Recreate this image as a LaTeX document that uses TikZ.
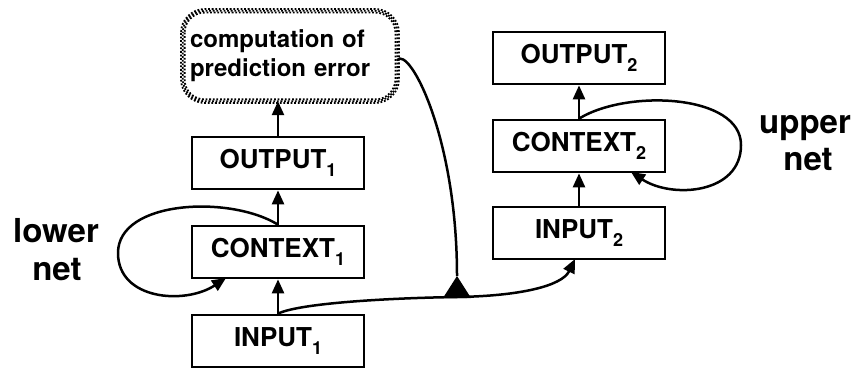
\documentclass[tikz,border=0pt]{standalone}
\usepackage{fontspec}
\setmainfont{TeX Gyre Heros}
\usetikzlibrary{arrows.meta}
% lowered index digit used in the unit names
\newcommand\unitidx[1]{\raisebox{-0.3em}{\fontsize{18}{18}\selectfont #1}}

\begin{document}
\begin{tikzpicture}[x=1pt,y=-1pt,
  unit/.style={draw, line width=2.7pt, minimum width=172pt, minimum height=52pt,
    inner sep=0pt, font=\fontsize{26}{28}\selectfont\bfseries},
  errbox/.style={minimum width=214pt, minimum height=90pt, inner xsep=7pt,
    inner ysep=0pt, text width=200pt, align=left,
    font=\fontsize{24}{29}\selectfont\bfseries},
  link/.style={line width=2.5pt, -{Triangle[length=14pt,width=12pt]}},
  wire/.style={line width=2.5pt},
  netlabel/.style={font=\fontsize{33}{37}\selectfont\bfseries, inner sep=0pt},
  checker/.style={line width=1.8pt, dash pattern=on 1.8pt off 1.8pt}
]
\useasboundingbox (0,0) rectangle (853,371);

% lower network
\node[unit] (in1)  at (278,341) {INPUT\unitidx{1}};
\node[unit] (ctx1) at (278,252) {CONTEXT\unitidx{1}};
\node[unit] (out1) at (278,163) {OUTPUT\unitidx{1}};

% upper network
\node[unit] (in2)  at (579,233) {INPUT\unitidx{2}};
\node[unit] (ctx2) at (579,146) {CONTEXT\unitidx{2}};
\node[unit] (out2) at (579,58)  {OUTPUT\unitidx{2}};

% prediction-error unit with a dithered border (three offset dash rows)
\node[errbox] (err) at (290,56) {computation of\\prediction error};
\draw[checker, rounded corners=24pt]
  ([xshift=-1.8pt,yshift=1.8pt]err.north west) rectangle ([xshift=1.8pt,yshift=-1.8pt]err.south east);
\draw[checker, dash phase=1.8pt, rounded corners=22pt]
  (err.north west) rectangle (err.south east);
\draw[checker, rounded corners=20pt]
  ([xshift=1.8pt,yshift=-1.8pt]err.north west) rectangle ([xshift=-1.8pt,yshift=1.8pt]err.south east);

% labels
\node[netlabel, anchor=base] (lowerw) at (56,243) {lower};
\node[netlabel, anchor=base] (lowern) at (57,280) {net};
\node[netlabel, anchor=base] (upperw) at (805,134) {upper};
\node[netlabel, anchor=base] (uppern) at (808,171) {net};

% feed-forward arrows
\draw[link] (in1.north)  -- (ctx1.south);
\draw[link] (ctx1.north) -- (out1.south);
\draw[link] (out1.north) -- (out1.north |- err.south);
\draw[link] (in2.north)  -- (ctx2.south);
\draw[link] (ctx2.north) -- (out2.south);

% recurrent loops
\coordinate (ret1) at (226,278);
\draw[link] (ctx1.north) .. controls (230,195) and (118,200) .. (118,253)
  .. controls (118,300) and (185,305) .. (ret1);
\coordinate (ret2) at (631,172);
\draw[link] (ctx2.north) .. controls (627,89) and (741,94) .. (741,145)
  .. controls (741,194) and (672,199) .. (ret2);

% error signal gating the input path
\coordinate (gate) at (457,297);
\coordinate (apex) at (457,276);
\draw[wire] ([yshift=-4pt]err.east) .. controls +(12,-14) and +(0,-140) .. (apex);
\fill (apex) -- (471,298) -- (443,298) -- cycle;

% input path to the upper network
\coordinate (in2foot) at (575,259);
\draw[wire] (in1.north) .. controls (300,303) and (390,298) .. (gate);
\draw[link] (gate) .. controls (520,296) and (562,286) .. (in2foot);
\end{tikzpicture}
\end{document}
